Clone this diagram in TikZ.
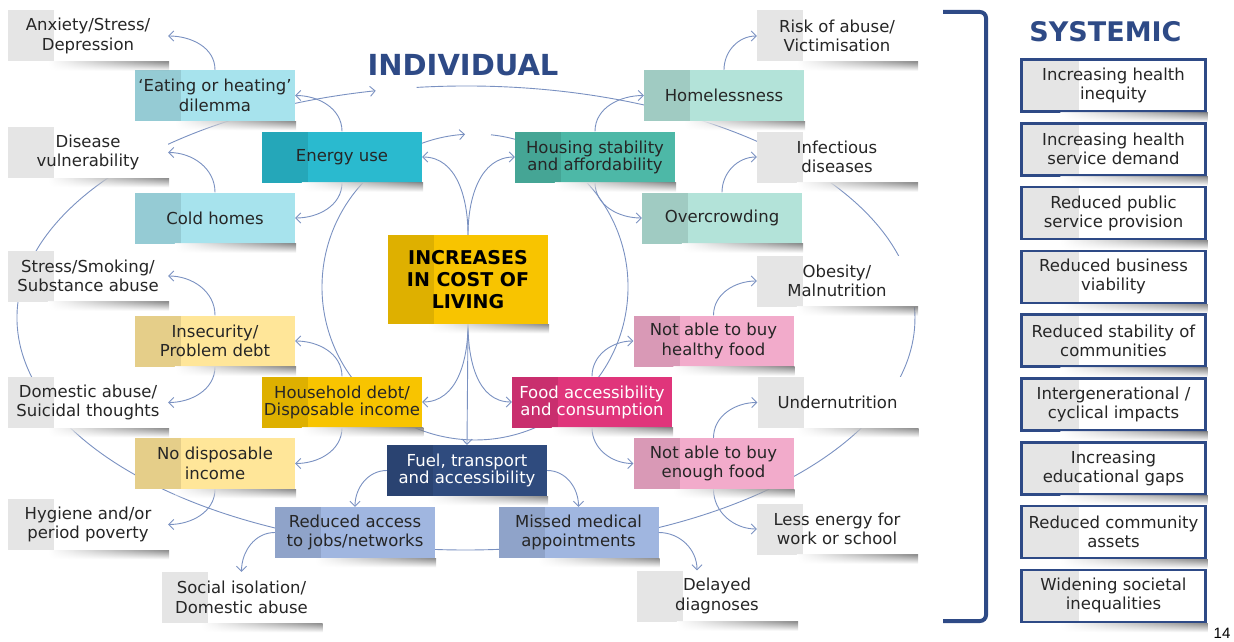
\documentclass[tikz,border=0pt]{standalone}
\usepackage{fontspec}
\setmainfont{DejaVu Sans}
\newfontfamily\pagenofont{Liberation Sans}
\usetikzlibrary{arrows.meta,fadings}

\definecolor{linkblue}{RGB}{122,145,193}
\definecolor{navy}{HTML}{2E4A86}
\definecolor{textgray}{HTML}{262626}
\definecolor{cyanlight}{HTML}{A7E3ED}
\definecolor{cyandark}{HTML}{2ABACF}
\definecolor{tealdark}{HTML}{4DB8A7}
\definecolor{teallight}{HTML}{B3E3D9}
\definecolor{yellowlight}{HTML}{FFE699}
\definecolor{gold}{HTML}{F8C400}
\definecolor{magenta}{HTML}{E0357B}
\definecolor{pinklight}{HTML}{F2ABCB}
\definecolor{navybox}{HTML}{2F4B7E}
\definecolor{bluelight}{HTML}{A0B6E0}

\tikzfading[name=shadowfade, top color=transparent!10, bottom color=transparent!100]

\tikzset{
    box/.style={minimum width=160pt, minimum height=51pt, inner sep=2pt, align=center,
        font=\fontsize{16.5}{19.5}\selectfont, text=textgray,
        path picture={\fill[black, opacity=.1] (path picture bounding box.north west) rectangle ([xshift=46pt]path picture bounding box.south west);}},
    outcome/.style={box, fill=white},
    core/.style={box, font=\fontsize{16.5}{17}\selectfont},
    sysbox/.style={box, draw=navy, line width=2.5pt, fill=white, minimum width=184pt, minimum height=52pt,
        font=\fontsize{16.5}{19}\selectfont,
        path picture={\fill[black, opacity=.1] (path picture bounding box.north west) rectangle ([xshift=57pt]path picture bounding box.south west);}},
    link/.style={draw=linkblue, line width=.9pt, -{Straight Barb[length=5pt,width=10pt]}},
    ring/.style={draw=linkblue, line width=.9pt},
    boxshadow/.style={left color=white, right color=black!50, path fading=shadowfade},
    title/.style={text=navy, font=\fontsize{27}{27}\selectfont\bfseries}
}

\begin{document}
\begin{tikzpicture}[x=1pt, y=-1pt]
            \useasboundingbox (0,0) rectangle (1234,642);

            % the two loops behind the boxes
            \draw[ring, -{Straight Barb[length=5pt,width=10pt]}] (416.7,87.4)
                arc[start angle=263.7, end angle=618.4, x radius=449, y radius=232];
            \draw[ring, -{Straight Barb[length=5pt,width=10pt]}] (491,134.8)
                arc[start angle=276, end angle=626.25, radius=153];

            \node[title, font=\fontsize{29}{29}\selectfont\bfseries] (indiv) at (463, 65) {INDIVIDUAL};
            \node[title] (syst) at (1105.5, 32) {SYSTEMIC};

            % centre
            \node[core, fill=gold, font=\fontsize{19}{22}\selectfont\bfseries, text=black, minimum height=89pt] (incr) at (468, 279.5) {INCREASES\\IN COST OF\\LIVING};
            \node[core, fill=cyandark] (energy) at (342, 157) {Energy use};
            \node[core, fill=gold] (hdebt) at (342, 402) {Household debt/\\Disposable income};
            \node[core, fill=tealdark] (housing) at (595, 157) {Housing stability\\and affordability};
            \node[core, fill=magenta, text=white] (food) at (592, 402) {Food accessibility\\and consumption};
            \node[core, fill=navybox, text=white] (fuel) at (467, 470.5) {Fuel, transport\\and accessibility};
            \node[box, fill=bluelight] (redacc) at (355, 532.5) {Reduced access\\to jobs/networks};
            \node[box, fill=bluelight] (missed) at (578.5, 532.5) {Missed medical\\appointments};

            % left side
            \node[box, fill=cyanlight] (eat) at (215, 95.5) {‘Eating or heating’\\dilemma};
            \node[box, fill=cyanlight] (cold) at (215, 218) {Cold homes};
            \node[box, fill=yellowlight] (insec) at (215, 341) {Insecurity/\\Problem debt};
            \node[box, fill=yellowlight] (nodisp) at (215, 463.5) {No disposable\\income};

            \node[outcome] (anx) at (88, 36) {Anxiety/Stress/\\Depression};
            \node[outcome] (disv) at (88, 152.5) {Disease\\vulnerability};
            \node[outcome] (smok) at (88, 276) {Stress/Smoking/\\Substance abuse};
            \node[outcome] (dom) at (88, 402.5) {Domestic abuse/\\Suicidal thoughts};
            \node[outcome] (hyg) at (88, 524.5) {Hygiene and/or\\period poverty};
            \node[outcome] (soc) at (241.5, 597.5) {Social isolation/\\Domestic abuse};

            % right side
            \node[box, fill=teallight] (homeless) at (724, 95.5) {Homelessness};
            \node[box, fill=teallight] (overc) at (722, 218) {Overcrowding};
            \node[box, fill=pinklight] (healthy) at (713.5, 341) {Not able to buy\\healthy food};
            \node[box, fill=pinklight] (enough) at (713.5, 463.5) {Not able to buy\\enough food};

            \node[outcome] (risk) at (837, 36) {Risk of abuse/\\Victimisation};
            \node[outcome] (infect) at (837, 157) {Infectious\\diseases};
            \node[outcome] (obes) at (837, 281) {Obesity/\\Malnutrition};
            \node[outcome] (under) at (837.5, 402.5) {Undernutrition};
            \node[outcome] (less) at (837, 529) {Less energy for\\work or school};
            \node[outcome] (delay) at (717, 596) {Delayed\\diagnoses};

            % links out of the centre
            \draw[link] (incr.north) to[out=90, in=0] (energy.east);
            \draw[link] (incr.north) to[out=90, in=180] (housing.west);
            \draw[link] (incr.south) to[out=-90, in=0] (hdebt.east);
            \draw[link] (incr.south) to (fuel.north);
            \draw[link] (incr.south) to[out=-90, in=180] (food.west);

            \draw[link] (energy.north) to[out=90, in=0] (eat.east);
            \draw[link] (energy.south) to[out=-90, in=0] (cold.east);
            \draw[link] (hdebt.north) to[out=90, in=0] (insec.east);
            \draw[link] (hdebt.south) to[out=-90, in=0] (nodisp.east);
            \draw[link] (eat.north) to[out=90, in=0] (anx.east);
            \draw[link] (cold.north) to[out=90, in=0] (disv.east);
            \draw[link] (insec.north) to[out=90, in=0] (smok.east);
            \draw[link] (insec.south) to[out=-90, in=0] (dom.east);
            \draw[link] (nodisp.south) to[out=-90, in=0] (hyg.east);

            \draw[link] (housing.north) to[out=90, in=180] (homeless.west);
            \draw[link] (housing.south) to[out=-90, in=180] (overc.west);
            \draw[link] (food.north) to[out=90, in=180] (healthy.west);
            \draw[link] (food.south) to[out=-90, in=180] (enough.west);
            \draw[link] (homeless.north) to[out=90, in=180] (risk.west);
            \draw[link] (overc.north) to[out=90, in=180] (infect.west);
            \draw[link] (healthy.north) to[out=90, in=180] (obes.west);
            \draw[link] (enough.north) to[out=90, in=180] (under.west);
            \draw[link] (enough.south) to[out=-90, in=180] (less.west);

            \draw[link] (fuel.west) to[out=180, in=90] (redacc.north);
            \draw[link] (fuel.east) to[out=0, in=90] (missed.north);
            \draw[link] (redacc.west) to[out=180, in=90] (soc.north);
            \draw[link] (missed.east) to[out=0, in=90] ([xshift=-20pt]delay.north);

            % systemic column
            \draw[navy, line width=4pt, rounded corners=6pt] (943,12) -- (986,12) -- (986,621) -- (943,621);
            \foreach \txt [count=\i] in {{Increasing health\\inequity}, {Increasing health\\service demand},
                    {Reduced public\\service provision}, {Reduced business\\viability},
                    {Reduced stability of\\communities}, {Intergenerational /\\cyclical impacts},
                    {Increasing\\educational gaps}, {Reduced community\\assets},
                    {Widening societal\\inequalities}}{
                \node[sysbox] (sys\i) at (1113.5, 21.7+63.8*\i) {\txt};
            }

            % soft shadows under the boxes
            \foreach \n in {anx,disv,smok,dom,hyg,soc,eat,cold,insec,nodisp,energy,hdebt,incr,housing,food,
                    fuel,redacc,missed,homeless,overc,healthy,enough,risk,infect,obes,under,less,delay,
                    sys1,sys2,sys3,sys4,sys5,sys6,sys7,sys8,sys9}
                \shade[boxshadow] ([xshift=40pt]\n.south west) rectangle ([xshift=1pt, yshift=-9pt]\n.south east);

            \node[font=\pagenofont\fontsize{15}{15}\selectfont] (pageno) at (1222, 633) {14};
        \end{tikzpicture}
\end{document}
